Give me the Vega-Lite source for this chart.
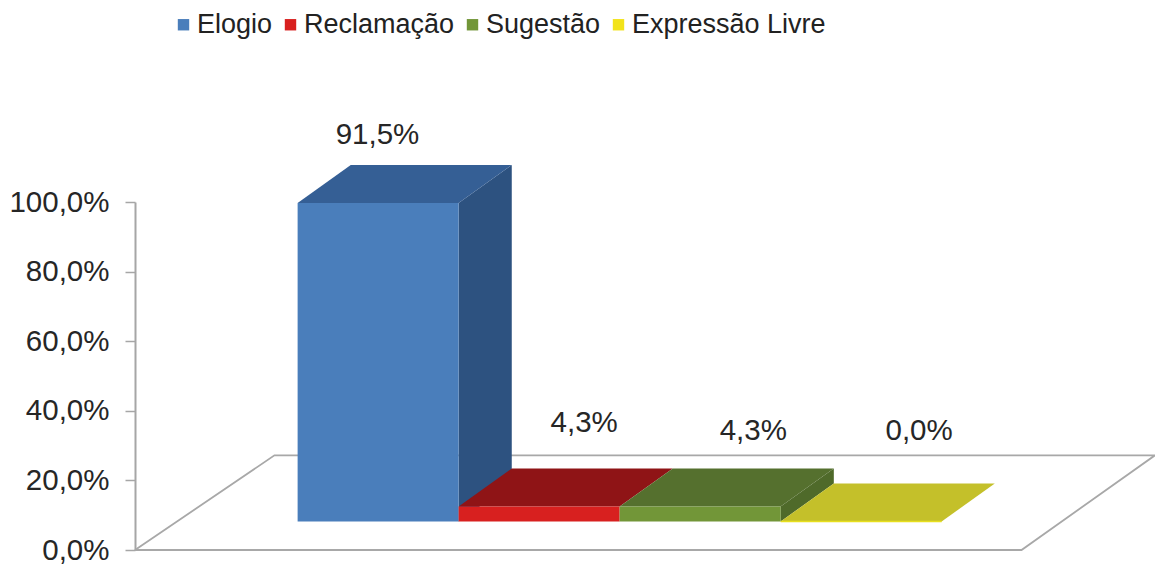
{
"$schema":"https://vega.github.io/schema/vega-lite/v6.json",
"width":1020,"height":348,
"autosize":{"type":"none"},
"padding":{"left":135,"top":202,"right":0,"bottom":15},
"background":"#ffffff",
"config":{"view":{"stroke":null},"font":"Liberation Sans"},
"datasets":{
"barras":[
{"categoria":"Elogio","valor":91.5,"rotulo":"91,5%","x0":1.01,"x1":2.01,"base":8.2,"topo":99.7,"rx":1.506,"ry":119.3},
{"categoria":"Reclamação","valor":4.3,"rotulo":"4,3%","x0":2.01,"x1":3.01,"base":8.2,"topo":12.5,"rx":2.79,"ry":36.4},
{"categoria":"Sugestão","valor":4.3,"rotulo":"4,3%","x0":3.01,"x1":4.01,"base":8.2,"topo":12.5,"rx":3.84,"ry":34.1},
{"categoria":"Expressão Livre","valor":0.0,"rotulo":"0,0%","x0":4.01,"x1":5.01,"base":8.2,"topo":8.2,"rx":4.87,"ry":34.1}
],
"lados":[
{"face":"Elogio lado","x":2.01,"y":99.7,"y2":8.2},
{"face":"Elogio lado","x":2.34,"y":110.6,"y2":19.1},
{"face":"Sugestão lado","x":4.01,"y":12.5,"y2":8.2},
{"face":"Sugestão lado","x":4.34,"y":23.4,"y2":19.1}
],
"topos":[
{"face":"Elogio topo","y":99.7,"x":1.01,"x2":2.01},
{"face":"Elogio topo","y":110.6,"x":1.34,"x2":2.34},
{"face":"Reclamação topo","y":12.5,"x":2.01,"x2":3.01},
{"face":"Reclamação topo","y":23.4,"x":2.34,"x2":3.34},
{"face":"Sugestão topo","y":12.5,"x":3.01,"x2":4.01},
{"face":"Sugestão topo","y":23.4,"x":3.34,"x2":4.34},
{"face":"Expressão topo","y":8.2,"x":4.01,"x2":5.01},
{"face":"Expressão topo","y":19.1,"x":4.34,"x2":5.34}
],
"piso":[
{"ordem":1,"x":0,"y":0},
{"ordem":2,"x":0.866,"y":27.2},
{"ordem":3,"x":6.335,"y":27.2},
{"ordem":4,"x":5.506,"y":0},
{"ordem":5,"x":0,"y":0}
]
},
"layer":[
{"data":{"name":"piso"},
 "mark":{"type":"line","color":"#a8a8a8","strokeWidth":1.8},
 "encoding":{
  "x":{"field":"x","type":"quantitative","scale":{"domain":[0,6.335],"nice":false,"zero":false},"axis":null},
  "y":{"field":"y","type":"quantitative","scale":{"domain":[0,100],"nice":false},
   "axis":{"title":null,"values":[0,20,40,60,80,100],"grid":false,"domainColor":"#a6a6a6","domainWidth":2,"tickColor":"#a6a6a6","tickWidth":1.5,"tickSize":10,"labelPadding":16,"labelFontSize":29.5,"labelColor":"#262626","labelFont":"Liberation Sans","labelExpr":"replace(format(datum.value,'.1f'),'.',',')+'%'"}},
  "order":{"field":"ordem","type":"quantitative"}
 }},
{"data":{"name":"lados"},
 "mark":{"type":"area","orient":"vertical"},
 "encoding":{
  "x":{"field":"x","type":"quantitative"},
  "y":{"field":"y","type":"quantitative"},
  "y2":{"field":"y2"},
  "detail":{"field":"face"},
  "fill":{"field":"face","type":"nominal","legend":null,"scale":{"domain":["Elogio lado","Sugestão lado","Elogio topo","Reclamação topo","Sugestão topo","Expressão topo"],"range":["#2d5280","#4f6a2a","#355f95","#8f1416","#55702e","#c4c02a"]}}
 }},
{"data":{"name":"topos"},
 "mark":{"type":"area","orient":"horizontal"},
 "encoding":{
  "y":{"field":"y","type":"quantitative"},
  "x":{"field":"x","type":"quantitative"},
  "x2":{"field":"x2"},
  "detail":{"field":"face"},
  "fill":{"field":"face","type":"nominal","legend":null,"scale":{"domain":["Elogio lado","Sugestão lado","Elogio topo","Reclamação topo","Sugestão topo","Expressão topo"],"range":["#2d5280","#4f6a2a","#355f95","#8f1416","#55702e","#c4c02a"]}}
 }},
{"data":{"name":"barras"},
 "mark":{"type":"rect"},
 "encoding":{
  "x":{"field":"x0","type":"quantitative"},
  "x2":{"field":"x1"},
  "y":{"field":"base","type":"quantitative"},
  "y2":{"field":"topo"},
  "color":{"field":"categoria","type":"nominal","scale":{"domain":["Elogio","Reclamação","Sugestão","Expressão Livre"],"range":["#4a7ebb","#d8201f","#729638","#f2e31a"]},
   "legend":{"title":null,"orient":"none","legendX":35,"legendY":-191,"direction":"horizontal","columns":4,"symbolType":"square","symbolSize":130,"symbolStrokeWidth":0,"labelFontSize":27,"labelLimit":400,"labelColor":"#222222","labelFont":"Liberation Sans","labelOffset":0,"columnPadding":4}}
 }},
{"data":{"name":"barras"},
 "transform":[{"filter":"datum.valor === 0"}],
 "mark":{"type":"rule","color":"#e8e01e","strokeWidth":1.5},
 "encoding":{
  "x":{"field":"x0","type":"quantitative"},
  "x2":{"field":"x1"},
  "y":{"field":"base","type":"quantitative"}
 }},
{"data":{"name":"barras"},
 "mark":{"type":"text","fontSize":29.5,"color":"#262626","font":"Liberation Sans"},
 "encoding":{
  "x":{"field":"rx","type":"quantitative"},
  "y":{"field":"ry","type":"quantitative"},
  "text":{"field":"rotulo"}
 }}
]
}
